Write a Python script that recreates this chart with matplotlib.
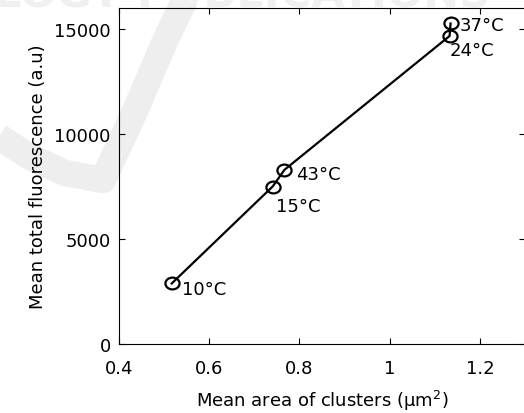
import numpy as np
import matplotlib
matplotlib.use('Agg')
import matplotlib.pyplot as plt
from matplotlib.path import Path
from matplotlib.transforms import Affine2D
from matplotlib.lines import Line2D

# ----------------------------------------------------------------------------
# Mean total fluorescence vs mean cluster area, per temperature
# ----------------------------------------------------------------------------

temp_labels = ['10°C', '15°C', '24°C', '37°C', '43°C']
mean_area = np.array([0.5168, 0.7406, 1.1328, 1.1350, 0.7668])          # um^2
mean_fluor = np.array([2881, 7500, 14667, 15262, 8295])                 # a.u.

x_ticks = [0.4, 0.6, 0.8, 1.0, 1.2]
x_tick_labels = ['0.4', '0.6', '0.8', '1', '1.2']
y_ticks = [0, 5000, 10000, 15000]

# label offsets in pixels (right, down) from each point
label_offsets = {'10°C': (10, 10.5), '15°C': (3, 24), '24°C': (0, 19.5),
                 '37°C': (9, 7), '43°C': (12, 9)}

W, H = 524, 414
fig = plt.figure(figsize=(W / 100, H / 100), dpi=100)
ax = fig.add_axes([119 / W, 69 / H, 406 / W, 336 / H])
ax.set_facecolor('none')

# faint publisher watermark behind the plot
vx = np.array([-5, 30, 65, 103, 135, 165, 190])
vy = np.array([135, 158, 174, 181, 112, 42, -10])
fig.add_artist(Line2D(vx / W, 1 - vy / H, transform=fig.transFigure,
                      color='#eeeeee', lw=19, solid_joinstyle='round',
                      solid_capstyle='butt', zorder=-2))
fig.text(-6 / W, 1 - 7 / H, 'LOGY PUBLICATIONS', fontsize=31, fontweight='bold',
         color='#f0f0f0', ha='left', va='baseline', zorder=-2)

# slightly wide ellipse marker, as in the original
ring = Path.unit_circle().transformed(Affine2D().scale(1.2, 1.0))

order = np.argsort(mean_area)
ax.plot(mean_area[order], mean_fluor[order], '-', color='black', lw=1.6,
        marker=ring, markersize=10.2, markerfacecolor='none',
        markeredgecolor='black', markeredgewidth=1.6)

for lab, xv, yv in zip(temp_labels, mean_area, mean_fluor):
    dx, dy = label_offsets[lab]
    ax.annotate(lab, (xv, yv), xytext=(dx, -dy), textcoords='offset pixels',
                fontsize=13, ha='left', va='baseline')

ax.set_xlim(0.4, 1.3)
ax.set_ylim(0, 16000)
ax.set_xticks(x_ticks)
ax.set_xticklabels(x_tick_labels)
ax.set_yticks(y_ticks)
ax.tick_params(direction='in', top=True, right=True, length=4, width=0.8,
               labelsize=13)
ax.tick_params(axis='x', pad=11)
ax.tick_params(axis='y', pad=6)
for s in ax.spines.values():
    s.set_linewidth(0.8)

ax.set_xlabel('Mean area of clusters (μm$^2$)', fontsize=13, labelpad=8)
ax.set_ylabel('Mean total fluorescence (a.u)', fontsize=13, labelpad=5)

fig.savefig('out.png', dpi=100)
